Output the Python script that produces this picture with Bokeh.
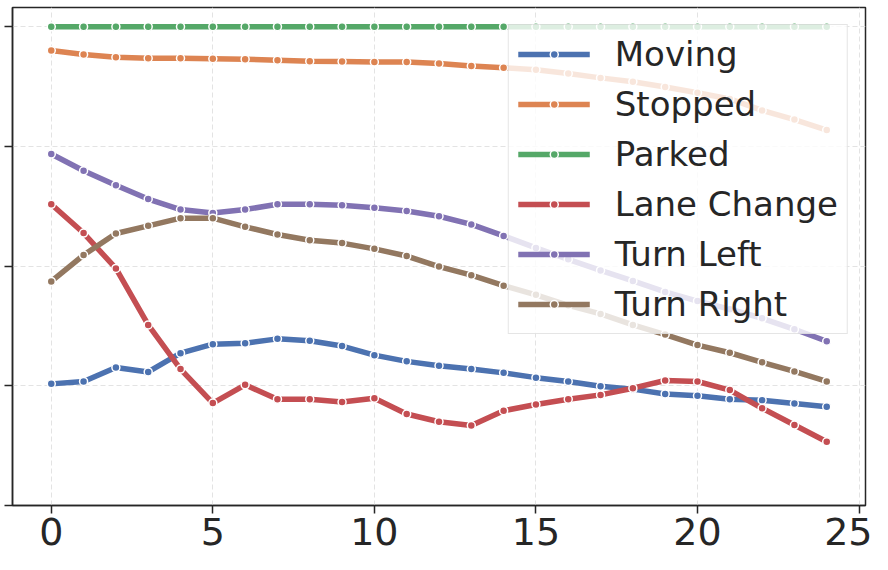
from bokeh.plotting import figure
from bokeh.models import Range1d, FixedTicker, CustomJSTickFormatter, Legend, LegendItem
from bokeh.embed import file_html
from bokeh.resources import INLINE

steps = list(range(25))
x_ticks = [0, 5, 10, 15, 20, 25]
y_ticks = [0.0, 0.25, 0.5, 0.75, 1.0]

moving = [0.254, 0.259, 0.288, 0.279, 0.318, 0.337, 0.339, 0.348, 0.344, 0.333,
          0.314, 0.301, 0.292, 0.285, 0.277, 0.267, 0.259, 0.249, 0.243, 0.233,
          0.229, 0.222, 0.220, 0.213, 0.206]
stopped = [0.950, 0.942, 0.936, 0.934, 0.934, 0.933, 0.932, 0.930, 0.928, 0.927,
           0.926, 0.926, 0.923, 0.918, 0.914, 0.910, 0.902, 0.893, 0.885, 0.874,
           0.862, 0.849, 0.825, 0.806, 0.784]
parked = [1.0] * 25
lane_change = [0.629, 0.569, 0.495, 0.377, 0.285, 0.214, 0.252, 0.222, 0.222, 0.216,
               0.224, 0.191, 0.175, 0.167, 0.198, 0.211, 0.222, 0.231, 0.245, 0.261,
               0.259, 0.241, 0.203, 0.168, 0.133]
turn_left = [0.734, 0.699, 0.669, 0.640, 0.618, 0.611, 0.618, 0.629, 0.629, 0.627,
             0.622, 0.615, 0.604, 0.587, 0.563, 0.538, 0.514, 0.491, 0.469, 0.446,
             0.427, 0.410, 0.391, 0.368, 0.343]
turn_right = [0.468, 0.523, 0.568, 0.584, 0.600, 0.600, 0.582, 0.566, 0.554, 0.548,
              0.536, 0.521, 0.499, 0.481, 0.459, 0.440, 0.418, 0.400, 0.377, 0.357,
              0.335, 0.319, 0.299, 0.280, 0.259]

names = ["Moving", "Stopped", "Parked", "Lane Change", "Turn Left", "Turn Right"]
series = [moving, stopped, parked, lane_change, turn_left, turn_right]
colors = ["#4C72B0", "#DD8452", "#55A868", "#C44E52", "#8172B3", "#937860"]

INK = "#262626"
FONT = "DejaVu Sans"

p = figure(width=872, height=554, x_range=Range1d(-1.2, 25.2), y_range=Range1d(0, 1.04),
           output_backend="svg", toolbar_location=None,
           min_border_left=12, min_border_right=7, min_border_top=7, min_border_bottom=49)
p.background_fill_color = "white"
p.border_fill_color = "white"
p.outline_line_color = INK
p.outline_line_width = 1.5

p.xaxis.ticker = FixedTicker(ticks=x_ticks)
p.yaxis.ticker = FixedTicker(ticks=y_ticks)
p.yaxis.formatter = CustomJSTickFormatter(code="return ''")
p.yaxis.major_label_standoff = 0
p.xaxis.major_label_standoff = 4
for ax in (p.xaxis, p.yaxis):
    ax.axis_line_color = INK
    ax.axis_line_width = 1.5
    ax.major_tick_line_color = INK
    ax.major_tick_line_width = 1.5
    ax.major_tick_out = 8
    ax.major_tick_in = 0
    ax.minor_tick_line_color = None
    ax.major_label_text_font = FONT
    ax.major_label_text_color = INK
p.xaxis.major_label_text_font_size = "38px"

p.xgrid.ticker = FixedTicker(ticks=x_ticks)
p.ygrid.ticker = FixedTicker(ticks=y_ticks)
for g in (p.xgrid, p.ygrid):
    g.grid_line_color = "#e3e3e3"
    g.grid_line_width = 1
    g.grid_line_dash = "5 3"

items = []
for name, vals, c in zip(names, series, colors):
    rl = p.line(steps, vals, line_color=c, line_width=5.5)
    rs = p.scatter(steps, vals, size=8, fill_color=c, line_color="white", line_width=1.5)
    items.append(LegendItem(label=name, renderers=[rl, rs]))

legend = Legend(items=items, location="top_right", margin=17, padding=9,
                glyph_width=72, glyph_height=20, label_height=39, spacing=10,
                label_standoff=25, label_text_font=FONT, label_text_font_size="34px",
                label_text_color=INK, border_line_color="#cccccc", border_line_width=1,
                background_fill_color="white", background_fill_alpha=0.8)
p.add_layout(legend)

open("out.html", "w").write(file_html(p, INLINE))
